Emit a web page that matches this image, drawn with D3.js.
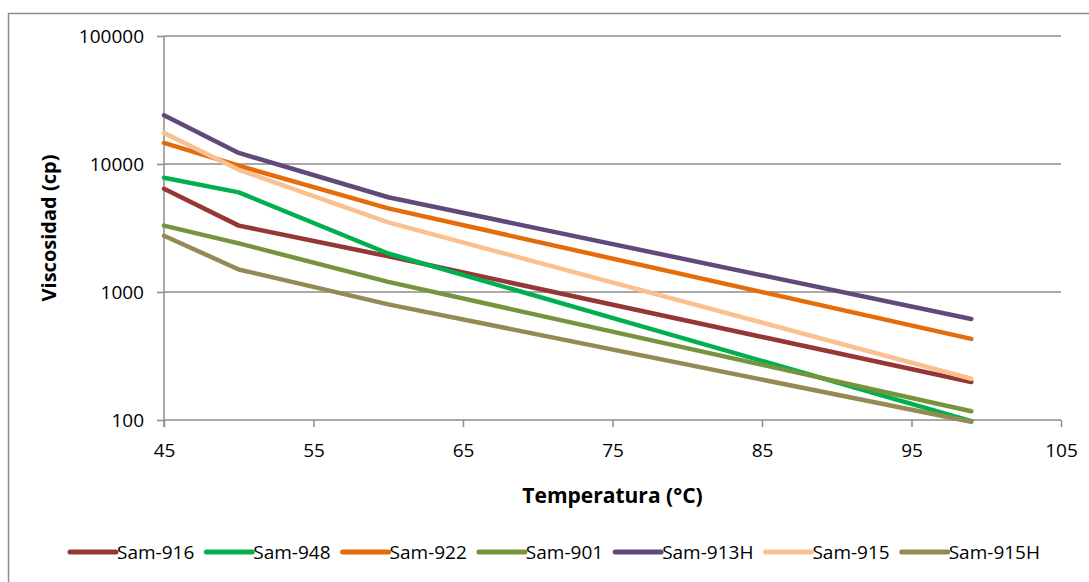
<!DOCTYPE html>
<html>
<head>
<meta charset="utf-8">
<script src="https://cdn.jsdelivr.net/npm/d3@7"></script>
<style>
  body { margin: 0; background: #fff; }
  text { font-family: "Open Sans", sans-serif; fill: #000; }
</style>
</head>
<body>
<div id="chart"></div>
<script>
// data
const temps = [45, 50, 60, 99]
const sam916 = [6400, 3300, 1900, 198]
const sam948 = [7800, 6000, 2000, 98]
const sam922 = [14600, 9700, 4500, 430]
const sam901 = [3300, 2400, 1200, 117]
const sam913H = [24000, 12200, 5500, 615]
const sam915 = [17500, 9000, 3500, 210]
const sam915H = [2750, 1500, 800, 97]

const seriesNames = ["Sam-916", "Sam-948", "Sam-922", "Sam-901", "Sam-913H", "Sam-915", "Sam-915H"]
const seriesValues = [sam916, sam948, sam922, sam901, sam913H, sam915, sam915H]
const seriesColors = ["#953735", "#00B050", "#E46C0A", "#77933C", "#604A7B", "#FAC090", "#948A54"]

const xTicks = [45, 55, 65, 75, 85, 95, 105]
const yTicks = [100, 1000, 10000, 100000]

const width = 1089
const height = 582
const margin = { top: 36, right: 28, bottom: 162, left: 164 }

const svg = d3.select("#chart")
    .append("svg")
    .attr("width", width)
    .attr("height", height)

// outer chart border
svg.append("rect")
    .attr("x", 8.5)
    .attr("y", 13.5)
    .attr("width", 1200)
    .attr("height", 700)
    .attr("fill", "#fff")
    .attr("stroke", "#8c8c8c")
    .attr("stroke-width", 1.5)

const xScale = d3.scaleLinear()
    .domain([45, 105])
    .range([margin.left, width - margin.right])

const yScale = d3.scaleLog()
    .domain([100, 100000])
    .range([height - margin.bottom, margin.top])

// horizontal gridlines
svg.append("g")
    .selectAll("line")
    .data(yTicks.slice(1))
    .enter().append("line")
    .attr("x1", margin.left)
    .attr("x2", width - margin.right)
    .attr("y1", d => yScale(d))
    .attr("y2", d => yScale(d))
    .attr("stroke", "#8c8c8c")
    .attr("stroke-width", 1.5)

// y axis
const yAxis = svg.append("g")
    .attr("transform", `translate(${margin.left},0)`)
    .call(d3.axisLeft(yScale).tickValues(yTicks).tickFormat(d3.format("d")).tickSize(7).tickPadding(13))
yAxis.select(".domain").attr("stroke", "#8c8c8c").attr("stroke-width", 1.5)
    .attr("d", `M0,${yScale(100000)}V${yScale(100) + 7}`)
yAxis.selectAll(".tick line").attr("stroke", "#8c8c8c").attr("stroke-width", 1.5)
yAxis.selectAll(".tick text").style("font-size", "19px").attr("fill", "#000")

// x axis
const xAxis = svg.append("g")
    .attr("transform", `translate(0,${height - margin.bottom})`)
    .call(d3.axisBottom(xScale).tickValues(xTicks).tickSize(7).tickPadding(17))
xAxis.select(".domain").attr("stroke", "#8c8c8c").attr("stroke-width", 1.5)
    .attr("d", `M${margin.left},0H${width - margin.right}`)
xAxis.selectAll(".tick line").attr("stroke", "#8c8c8c").attr("stroke-width", 1.5)
xAxis.selectAll(".tick text").style("font-size", "19px").attr("fill", "#000")

// axis titles
svg.append("text")
    .attr("x", (margin.left + width - margin.right) / 2)
    .attr("y", 503)
    .attr("text-anchor", "middle")
    .style("font-size", "21px")
    .style("font-weight", "bold")
    .text("Temperatura (°C)")

svg.append("text")
    .attr("transform", "translate(56,228) rotate(-90)")
    .attr("text-anchor", "middle")
    .style("font-size", "20px")
    .style("font-weight", "bold")
    .text("Viscosidad (cp)")

// lines
const line = d3.line()
    .x((d, i) => xScale(temps[i]))
    .y(d => yScale(d))

svg.append("g")
    .selectAll("path")
    .data(seriesValues)
    .enter().append("path")
    .attr("d", d => line(d))
    .attr("fill", "none")
    .attr("stroke", (d, i) => seriesColors[i])
    .attr("stroke-width", 4.5)
    .attr("stroke-linejoin", "round")
    .attr("stroke-linecap", "round")

// legend
const legend = svg.append("g")
const items = legend.selectAll("g")
    .data(seriesNames)
    .enter().append("g")
items.append("line")
    .attr("x1", 0).attr("x2", 46)
    .attr("y1", 0).attr("y2", 0)
    .attr("stroke", (d, i) => seriesColors[i])
    .attr("stroke-width", 5)
    .attr("stroke-linecap", "round")
items.append("text")
    .attr("x", 47)
    .attr("dy", "0.35em")
    .style("font-size", "19px")
    .text(d => d)

let pos = 0
const gap = 12
items.each(function () {
    const w = 47 + this.querySelector("text").getComputedTextLength()
    d3.select(this).attr("data-x", pos)
    pos += w + gap
})
const totalW = pos - gap
const startX = 555 - totalW / 2
items.attr("transform", function () {
    return `translate(${startX + +this.getAttribute("data-x")},552)`
})
</script>
</body>
</html>
